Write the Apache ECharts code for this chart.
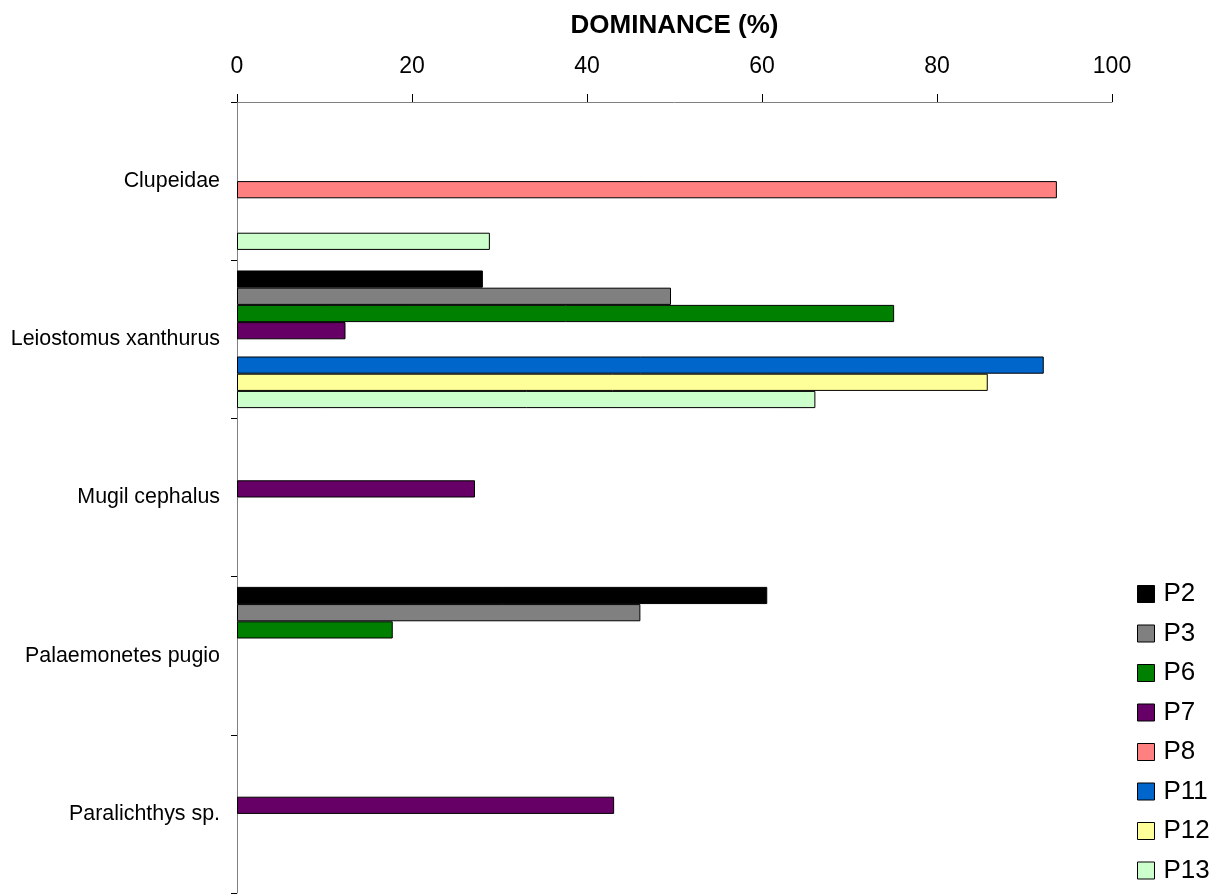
<!DOCTYPE html>
<html>
<head>
<meta charset="utf-8">
<script src="https://cdn.jsdelivr.net/npm/echarts@6/dist/echarts.min.js"></script>
<style>
  html, body { margin: 0; padding: 0; background: #fff; }
  #chart { width: 1225px; height: 896px; }
</style>
</head>
<body>
<div id="chart"></div>
<script>
const categories = ['Clupeidae', 'Leiostomus xanthurus', 'Mugil cephalus', 'Palaemonetes pugio', 'Paralichthys sp.'];
const seriesNames = ['P2', 'P3', 'P6', 'P7', 'P8', 'P11', 'P12', 'P13'];
const P2  = [null, 28.1, null, 60.6, null];
const P3  = [null, 49.6, null, 46.1, null];
const P6  = [null, 75.1, null, 17.8, null];
const P7  = [null, 12.4, 27.2, null, 43.1];
const P8  = [93.7, null, null, null, null];
const P11 = [null, 92.2, null, null, null];
const P12 = [null, 85.8, null, null, null];
const P13 = [28.9, 66.1, null, null, null];
const xTicks = [0, 20, 40, 60, 80, 100];

const seriesData = [P2, P3, P6, P7, P8, P11, P12, P13];
const colors = ['#000000', '#808080', '#008000', '#660066', '#FF8080', '#0066CC', '#FFFF99', '#CCFFCC'];
const FONT = 'Arial, "Liberation Sans", sans-serif';

const chart = echarts.init(document.getElementById('chart'));
chart.setOption({
  animation: false,
  backgroundColor: '#ffffff',
  textStyle: { fontFamily: FONT, color: '#000' },
  grid: { left: 237, right: 113, top: 102, bottom: 3, containLabel: false },
  legend: {
    orient: 'vertical',
    left: 1132,
    top: 576,
    height: 318,
    itemWidth: 17,
    itemHeight: 17,
    itemGap: 13.5,
    icon: 'rect',
    itemStyle: { borderColor: '#000', borderWidth: 1 },
    textStyle: { fontSize: 26, lineHeight: 26, color: '#000', fontFamily: FONT, padding: [0, 0, 0, 4] },
    data: seriesNames
  },
  xAxis: {
    type: 'value',
    position: 'top',
    min: xTicks[0],
    max: xTicks[xTicks.length - 1],
    interval: xTicks[1] - xTicks[0],
    name: 'DOMINANCE (%)',
    nameLocation: 'middle',
    nameGap: 63,
    nameTextStyle: { fontSize: 26, fontWeight: 'bold', color: '#000', fontFamily: FONT },
    axisLine: { show: true, lineStyle: { color: '#808080', width: 1 } },
    axisTick: { show: true, length: 8, lineStyle: { color: '#000' } },
    axisLabel: { fontSize: 23, color: '#000', margin: 24, fontFamily: FONT },
    splitLine: { show: false }
  },
  yAxis: {
    type: 'category',
    inverse: true,
    data: categories,
    axisLine: { show: true, lineStyle: { color: '#808080', width: 1 } },
    axisTick: { show: true, length: 6, alignWithLabel: false, lineStyle: { color: '#000' } },
    axisLabel: { fontSize: 21.4, color: '#000', margin: 17, fontFamily: FONT },
    splitLine: { show: false }
  },
  series: seriesNames.map((name, i) => ({
    name: name,
    type: 'bar',
    data: seriesData[i],
    barGap: '0%',
    barCategoryGap: '13%',
    itemStyle: { color: colors[i], borderColor: '#000', borderWidth: 1 }
  }))
});
</script>
</body>
</html>
